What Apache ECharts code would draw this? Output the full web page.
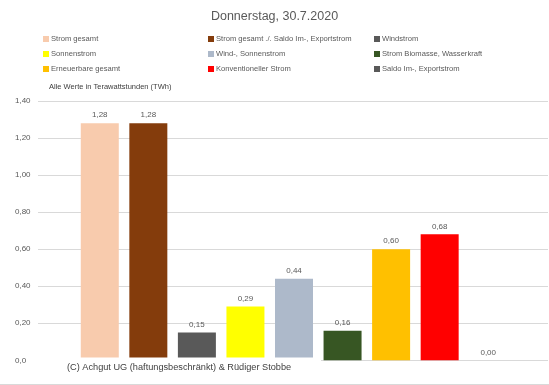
<!DOCTYPE html>
<html><head><meta charset="utf-8">
<script src="https://cdn.jsdelivr.net/npm/echarts@6/dist/echarts.min.js"></script>
<style>html,body{margin:0;padding:0;background:#fff}#c{width:549px;height:385px}</style>
</head><body><div id="c"></div>
<script>
const titleText = 'Donnerstag, 30.7.2020';
const categories = ['Strom gesamt','Strom gesamt ./. Saldo Im-, Exportstrom','Windstrom','Sonnenstrom','Wind-, Sonnenstrom','Strom Biomasse, Wasserkraft','Erneuerbare gesamt','Konventioneller Strom','Saldo Im-, Exportstrom'];
const values = [1.28, 1.28, 0.15, 0.29, 0.44, 0.16, 0.60, 0.68, 0.00];
const colors = ['#F8CBAD','#843C0C','#595959','#FFFF00','#ADB9CA','#375623','#FFC000','#FF0000','#595959'];
const legendCol1 = ['Strom gesamt','Sonnenstrom','Erneuerbare gesamt'];
const legendCol2 = ['Strom gesamt ./. Saldo Im-, Exportstrom','Wind-, Sonnenstrom','Konventioneller Strom'];
const legendCol3 = ['Windstrom','Strom Biomasse, Wasserkraft','Saldo Im-, Exportstrom'];
const yMin = 0, yMax = 1.4, yStep = 0.2;
const unitNote = 'Alle Werte in Terawattstunden (TWh)';
const credit = '(C) Achgut UG (haftungsbeschränkt) & Rüdiger Stobbe';

const FONT = '"Liberation Sans", Arial, sans-serif';
const fmt = v => String(v.toFixed(2)).replace('.', ',');
const chart = echarts.init(document.getElementById('c'));

const series = categories.map((name, i) => ({
  name: name,
  type: 'bar',
  xAxisIndex: 1, yAxisIndex: 1,
  barWidth: 38,
  barGap: '-100%',
  itemStyle: { color: colors[i] },
  data: categories.map((c, j) => j === i ? values[i] : '-'),
  label: {
    show: true, position: 'top', distance: 4,
    fontSize: 8, color: '#595959', fontFamily: FONT,
    formatter: p => fmt(p.value)
  },
  emphasis: { disabled: true },
  animation: false
}));

function mkLegend(data, left) {
  return {
    data: data, left: left, top: 34, orient: 'vertical',
    itemWidth: 6, itemHeight: 6, itemGap: 5, padding: 0,
    icon: 'rect',
    textStyle: { fontSize: 7.6, color: '#595959', fontFamily: FONT, padding: [0, 0, 0, -3], lineHeight: 10 },
    selectedMode: false
  };
}

chart.setOption({
  animation: false,
  title: { text: titleText, left: 'center', top: 5,
    textStyle: { fontSize: 12.5, fontWeight: 'normal', color: '#595959', fontFamily: FONT } },
  legend: [mkLegend(legendCol1, 43), mkLegend(legendCol2, 208), mkLegend(legendCol3, 374)],
  grid: [
    { left: 38, right: 1, top: 101, bottom: 24.7 },
    { left: 75.5, right: 36.5, top: 101, bottom: 24.7 }
  ],
  xAxis: [
    { type: 'value', gridIndex: 0, show: false, min: 0, max: 1 },
    { type: 'category', gridIndex: 1, data: categories, show: false }
  ],
  yAxis: [
    { type: 'value', gridIndex: 0, min: yMin, max: yMax, interval: yStep,
      axisLine: { show: false }, axisTick: { show: false },
      splitLine: { lineStyle: { color: '#D9D9D9', width: 1 } },
      axisLabel: { align: 'left', margin: 23, fontSize: 8, color: '#595959', fontFamily: FONT,
        formatter: v => v === 0 ? '0,0' : fmt(v) } },
    { type: 'value', gridIndex: 1, min: yMin, max: yMax, interval: yStep, show: false, splitLine: { show: false } }
  ],
  series: series,
  graphic: [
    { type: 'text', left: 49, top: 83, z: 100,
      style: { text: unitNote, fontSize: 7.5, fill: '#404040', fontFamily: FONT } },
    { type: 'rect', z: 100, shape: { x: 36, y: 357.5, width: 285, height: 22 }, style: { fill: '#fff' } },
    { type: 'text', left: 67, top: 363, z: 101,
      style: { text: credit, fontSize: 9.2, fill: '#404040', fontFamily: FONT } },
    { type: 'rect', z: 100, shape: { x: 0, y: 384, width: 549, height: 1 }, style: { fill: '#D9D9D9' } }
  ]
});
</script></body></html>
